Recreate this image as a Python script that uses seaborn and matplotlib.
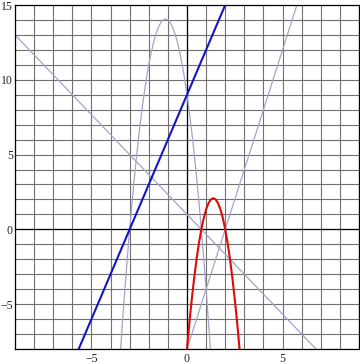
import matplotlib
matplotlib.use("Agg")
import matplotlib.pyplot as plt
import seaborn as sns

# ---- data ----
x_limits = [-9, 9]
y_limits = [-8, 15]
x_ticks = [-5, 0, 5]
y_ticks = [-5, 0, 5, 10, 15]

# blue straight line (end points at the frame)
blue_x = [-5.667, 2.0]
blue_y = [-8.0, 15.0]

# light rising straight line
rise_x = [0.0, 5.75]
rise_y = [-8.0, 15.0]

# light falling straight line
fall_x = [-9.0, 6.75]
fall_y = [13.0, -8.0]

# light tall parabola
tall_x = [-3.5, -3.375, -3.25, -3.125, -3.0, -2.875, -2.75, -2.625, -2.5, -2.375,
          -2.25, -2.125, -2.0, -1.875, -1.75, -1.625, -1.5, -1.375, -1.25, -1.125,
          -1.0, -0.875, -0.75, -0.625, -0.5, -0.375, -0.25, -0.125, 0.0, 0.125,
          0.25, 0.375, 0.5, 0.625, 0.75, 0.875, 1.0, 1.125, 1.25]
tall_y = [-8.5, -6.19, -4.0, -1.94, 0.0, 1.81, 3.5, 5.06, 6.5, 7.81,
          9.0, 10.06, 11.0, 11.81, 12.5, 13.06, 13.5, 13.81, 14.0, 14.06,
          14.0, 13.81, 13.5, 13.06, 12.5, 11.81, 11.0, 10.06, 9.0, 7.81,
          6.5, 5.06, 3.5, 1.81, 0.0, -1.94, -4.0, -6.19, -8.5]

# red parabola
red_x = [0.0, 0.125, 0.25, 0.375, 0.5, 0.625, 0.75, 0.875, 1.0, 1.125, 1.25, 1.375,
         1.5, 1.625, 1.75, 1.875, 2.0, 2.125, 2.25, 2.375, 2.5, 2.625, 2.75]
red_y = [-8.0, -6.25, -4.667, -3.25, -2.0, -0.917, 0.0, 0.75, 1.333, 1.75, 2.0, 2.083,
         2.0, 1.75, 1.333, 0.75, 0.0, -0.917, -2.0, -3.25, -4.667, -6.25, -8.0]

# ---- styling ----
sns.set_theme(style="white")
plt.rcParams["font.family"] = ["Liberation Serif", "DejaVu Serif"]

fig = plt.figure(figsize=(3.6, 3.64), dpi=100)
ax = fig.add_axes([15 / 360, 15 / 364, 344 / 360, 344 / 364])

ax.set_xlim(*x_limits)
ax.set_ylim(*y_limits)

# unit grid
ax.set_xticks(range(x_limits[0], x_limits[1] + 1), minor=True)
ax.set_yticks(range(y_limits[0], y_limits[1] + 1), minor=True)
ax.grid(which="minor", color="#707070", linewidth=0.8, zorder=0)
ax.grid(which="major", color="#707070", linewidth=0.8, zorder=0)
ax.tick_params(which="minor", length=0)
ax.set_xticks(x_ticks)
ax.set_yticks(y_ticks)
ax.set_xticklabels([str(t).replace("-", "\u2212") for t in x_ticks])
ax.set_yticklabels([str(t).replace("-", "\u2212") for t in y_ticks])
ax.tick_params(which="major", direction="in", length=3, width=0.8, color="black",
               labelsize=8.5, labelcolor="#222222")
ax.tick_params(axis="y", pad=1.5)
ax.tick_params(axis="x", pad=3)
ax.set_axisbelow(True)

# zero axes
ax.axhline(0, color="black", linewidth=0.9, zorder=1)
ax.axvline(0, color="black", linewidth=0.9, zorder=1)

for s in ax.spines.values():
    s.set_color("black")
    s.set_linewidth(0.9)

light = "#a4a4c8"
sns.lineplot(x=fall_x, y=fall_y, ax=ax, color=light, linewidth=0.9, sort=False, estimator=None)
sns.lineplot(x=rise_x, y=rise_y, ax=ax, color=light, linewidth=0.9, sort=False, estimator=None)
sns.lineplot(x=tall_x, y=tall_y, ax=ax, color=light, linewidth=0.9, sort=False, estimator=None)
sns.lineplot(x=blue_x, y=blue_y, ax=ax, color="#1414c8", linewidth=1.5, sort=False, estimator=None)
sns.lineplot(x=red_x, y=red_y, ax=ax, color="#dc0a0a", linewidth=1.5, sort=False, estimator=None)

ax.set_xlabel("")
ax.set_ylabel("")
ax.set_xlim(*x_limits)
ax.set_ylim(*y_limits)

fig.savefig("out.png", dpi=100)
